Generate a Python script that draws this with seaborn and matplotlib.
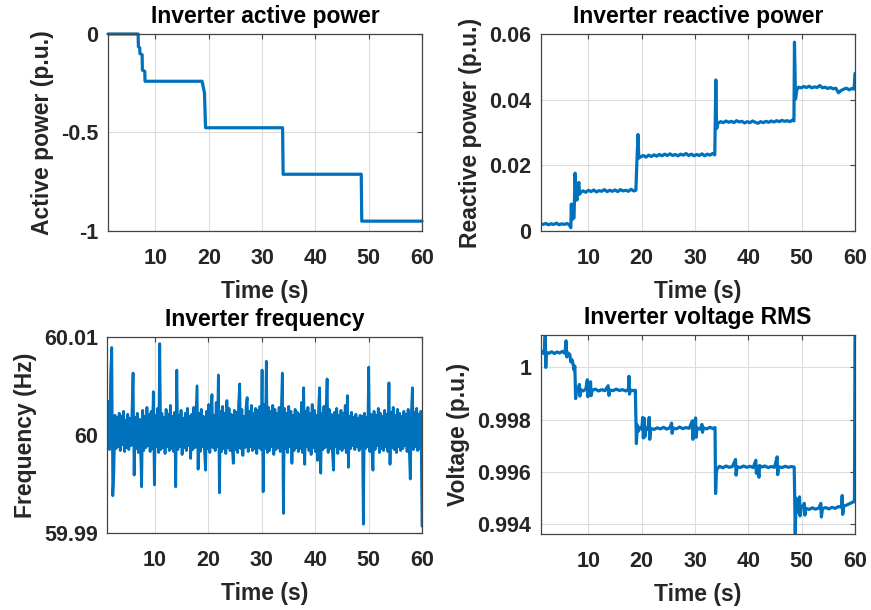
import numpy as np
import pandas as pd
import matplotlib
matplotlib.use("Agg")
import matplotlib.pyplot as plt
import seaborn as sns

# Data

# active power (p.u.) - step changes
p_time = [1.1, 6.75, 6.8, 7.05, 7.1, 7.5, 7.55, 8.0, 8.05, 18.75, 19.2, 19.35, 19.4,
          33.85, 33.95, 48.6, 48.7, 60.0]
p_val = [0.0, 0.0, -0.064, -0.07, -0.10, -0.105, -0.183, -0.19, -0.24, -0.24, -0.30,
         -0.44, -0.476, -0.476, -0.712, -0.712, -0.95, -0.95]

# reactive power, units of 1e-4 p.u.
q_time = [1.1, 1.5, 2.0, 2.5, 3.0, 3.5, 4.0, 4.5, 5.0, 5.5, 6.0, 6.4, 6.7, 6.8, 6.85,
          7.0, 7.3, 7.5, 7.6, 7.85, 8.0, 8.2, 8.35, 8.6, 9.0, 9.5, 10.0, 10.5, 11.0,
          11.5, 12.0, 12.5, 13.0, 13.5, 14.0, 14.5, 15.0, 15.5, 16.0, 16.5, 17.0, 17.5,
          18.0, 18.5, 18.9, 19.1, 19.3, 19.45, 19.8, 20.3, 20.8, 21.3, 21.8, 22.3, 22.8,
          23.3, 23.8, 24.3, 24.8, 25.3, 25.8, 26.3, 26.8, 27.3, 27.8, 28.3, 28.8, 29.3,
          29.8, 30.3, 30.8, 31.3, 31.8, 32.3, 32.8, 33.3, 33.7, 33.9, 34.05, 34.3, 34.8,
          35.3, 35.8, 36.3, 36.8, 37.3, 37.8, 38.3, 38.8, 39.3, 39.8, 40.3, 40.8, 41.3,
          41.8, 42.3, 42.8, 43.3, 43.8, 44.3, 44.8, 45.3, 45.8, 46.3, 46.8, 47.3, 47.8,
          48.3, 48.55, 48.65, 48.85, 49.1, 49.4, 49.9, 50.4, 50.9, 51.4, 51.9, 52.4,
          52.9, 53.4, 53.9, 54.4, 54.9, 55.4, 55.9, 56.4, 56.9, 57.4, 57.9, 58.4, 58.9,
          59.4, 59.8, 59.9, 60.0]
q_val = [22, 20, 23, 19, 22, 20, 24, 19, 22, 20, 23, 19, 10, 82, 40,
         36, 40, 176, 120, 94, 130, 148, 112, 119, 122, 118, 124, 120, 125,
         119, 123, 121, 126, 120, 124, 121, 125, 120, 126, 122, 124, 121,
         127, 122, 124, 215, 294, 222, 226, 230, 225, 231, 227, 232, 228,
         233, 229, 234, 230, 235, 230, 233, 229, 234, 231, 236, 230, 234,
         229, 233, 230, 235, 229, 234, 231, 236, 232, 460, 312, 328, 333,
         330, 335, 331, 334, 330, 336, 332, 334, 329, 333, 330, 335, 331,
         328, 333, 330, 334, 331, 335, 332, 336, 333, 337, 334, 336, 333,
         338, 335, 575, 402, 430, 438, 436, 440, 437, 441, 436, 439,
         437, 443, 436, 438, 434, 437, 433, 435, 421, 428, 432, 435, 430,
         434, 432, 448, 480]

# frequency deviation from 60 Hz, units of 1e-4 Hz (sampled every ~0.2 s)
f_dev = [12, 34, -15, 62, 89, -62, -38, 20, -14, 18, -12, 22, -16, 19, -10, 24, -17, 15, -13, 21,
         -15, 17, -11, 23, 63, -41, 18, -14, 22, -18, 16, -12, -53, 25, -16, 19, -13, 28, -11, 21,
         -17, 24, -14, 44, -51, 20, -12, 27, -18, 93, -15, 22, -13, 18, -19, 26, -12, 21, -16, 30,
         -14, 19, -17, 23, -53, 66, -15, 20, -12, 25, -20, 17, -13, 22, -16, 27, -11, 19, -24, 21,
         -15, 28, -13, 18, 50, -35, 22, -17, 26, -12, 19, -16, -36, 24, -14, 31, -18, 23, 41, -13,
         20, -16, 33, -12, 61, -59, 24, -17, 29, -14, 22, -19, 35, -13, 27, -16, 21, -12, -29, 25,
         -15, 23, -18, 30, 52, -14, 26, -21, 19, -13, 28, 38, -17, 24, -12, 30, -16, 22, -14, 27,
         -19, 25, -13, 29, -15, 66, -58, 31, -14, 75, -18, 28, -16, 24, -12, 30, -20, 26, -15, 22,
         -13, 28, -17, 25, 63, -80, 27, -14, 22, -18, 29, -12, 24, -29, 20, -16, 26, -13, 23, -17,
         21, -14, 33, -18, 48, -30, 24, -12, 28, -16, 22, -20, 31, -13, 25, -17, 20, -26, 27, 48,
         -39, 22, -15, 29, -13, 24, 57, -18, 26, -14, 21, -17, -36, 23, -12, 27, -19, 20, -14, 25,
         -16, 22, -13, 30, -18, 40, -33, 19, -14, 23, -11, 18, -15, 21, -12, 17, -16, 20, -13, 19,
         -91, 22, -14, 18, -12, 69, -17, 21, -13, -36, 24, -15, 20, -11, 27, -18, 22, -14, 19, -16,
         25, -12, 21, -17, 53, -30, 23, -13, 28, -15, 20, -18, 26, -12, 22, -16, 19, -14, 24, -11,
         21, -17, 26, -13, -45, 20, 48, -15, 23, -12, 27, -16, 21, -14, 24, -93]

# voltage RMS deviation from 1 p.u., units of 1e-4 p.u.
v_time = [1.1, 1.4, 1.7, 1.9, 2.0, 2.1, 2.6, 3.1, 3.6, 4.1, 4.6, 5.1, 5.6, 5.8, 5.95,
          6.1, 6.5, 6.7, 6.9, 7.1, 7.3, 7.45, 7.6, 7.75, 8.0, 8.3, 8.4, 8.6, 9.0, 9.5,
          9.8, 9.9, 10.1, 10.4, 10.5, 10.7, 11.3, 11.9, 12.5, 13.1, 13.7, 13.85, 14.0,
          14.6, 15.2, 15.8, 16.4, 17.0, 17.5, 17.6, 17.7, 17.9, 18.5, 18.8, 19.0, 19.15,
          19.3, 19.6, 20.0, 20.2, 20.3, 20.5, 20.6, 20.8, 21.2, 21.4, 21.5, 21.7, 22.3,
          22.9, 23.5, 24.1, 24.7, 25.3, 25.6, 25.7, 25.9, 26.5, 27.1, 27.7, 28.3, 28.9,
          29.5, 29.6, 29.8, 30.1, 30.2, 30.4, 31.0, 31.3, 31.4, 31.6, 32.2, 32.8, 33.4,
          33.75, 33.85, 34.0, 34.2, 34.6, 35.2, 35.8, 36.4, 37.0, 37.6, 37.7, 37.9, 38.5,
          39.1, 39.7, 40.3, 40.9, 41.4, 41.5, 41.7, 42.0, 42.1, 42.5, 43.1, 43.7, 44.3,
          44.9, 45.4, 45.5, 45.7, 46.3, 46.9, 47.5, 48.1, 48.6, 48.8, 48.95, 49.1, 49.4,
          49.6, 49.7, 49.9, 50.5, 50.6, 50.8, 51.4, 52.0, 52.6, 53.2, 53.6, 53.7, 53.9,
          54.5, 55.1, 55.7, 56.3, 56.9, 57.5, 57.6, 57.7, 57.9, 58.5, 59.1, 59.6, 59.9,
          60.0]
v_dev = [5.5, 6.0, 5.2, 12.4, 0.0, 5.8, 5.4, 6.0, 5.3, 5.9, 5.5, 6.1, 5.4, 10.2, 4.0,
         5.6, 5.0, 2.1, 3.0, 1.5, -1.0, 0.5, -11.9, -8.0, -9.2, -6.5, -11.0, -8.5, -9.0, -8.4,
         -4.7, -11.2, -8.6, -5.5, -10.8, -8.8, -8.3, -9.0, -8.5, -8.9, -7.0, -10.7, -8.6,
         -8.9, -8.3, -8.8, -8.5, -9.0, -8.4, -3.4, -10.2, -8.6, -8.9, -8.7, -29.1, -22.0,
         -24.5, -23.0, -23.6, -19.1, -27.0, -19.5, -26.5, -23.2, -23.6, -19.1, -27.5, -23.3, -23.7,
         -23.1, -23.5, -22.9, -23.6, -23.0, -21.3, -25.2, -23.2, -23.5, -22.8, -23.4, -23.0, -23.3,
         -20.4, -27.5, -23.0, -19.3, -26.7, -23.2, -23.6, -21.8, -24.8, -23.1, -23.5, -22.9, -23.4,
         -23.0, -48.2, -40.0, -38.6, -37.8, -38.4, -37.7, -38.2, -37.9, -35.2, -41.2, -38.0, -38.3,
         -37.7, -38.2, -37.8, -38.3, -35.5, -40.5, -38.0, -42.0, -37.5, -38.1, -37.7, -38.3, -37.9,
         -38.2, -34.2, -41.0, -38.0, -38.3, -37.8, -38.2, -37.9, -38.1, -63.5, -50.0, -55.5, -53.5,
         -49.5, -56.8, -53.8, -52.0, -56.5, -53.9, -54.3, -53.7, -54.2, -53.8, -52.0, -57.2, -54.0,
         -53.6, -54.1, -53.5, -53.9, -53.2, -53.5, -49.0, -56.2, -53.0, -52.6, -52.0, -51.5, -51.3,
         11.7]

x_ticks = [10, 20, 30, 40, 50, 60]
p_ticks = [-1, -0.5, 0]
p_ticklabels = ["-1", "-0.5", "0"]
q_ticks = [0, 0.02, 0.04, 0.06]
q_ticklabels = ["0", "0.02", "0.04", "0.06"]
f_ticks = [59.99, 60, 60.01]
f_ticklabels = ["59.99", "60", "60.01"]
v_ticks = [0.994, 0.996, 0.998, 1]
v_ticklabels = ["0.994", "0.996", "0.998", "1"]

titles = ["Inverter active power", "Inverter reactive power",
          "Inverter frequency", "Inverter voltage RMS"]
ylabels = ["Active power (p.u.)", "Reactive power (p.u.)",
           "Frequency (Hz)", "Voltage (p.u.)"]

# Build data frames
df_p = pd.DataFrame({"t": p_time, "y": p_val})
df_q = pd.DataFrame({"t": q_time, "y": np.array(q_val) * 1e-4})
df_f = pd.DataFrame({"t": np.linspace(1.1, 60, len(f_dev)), "y": 60 + np.array(f_dev) * 1e-4})
df_v = pd.DataFrame({"t": v_time, "y": 1 + np.array(v_dev) * 1e-4})

# Style (MATLAB-like)
sns.set_style("white")
plt.rcParams["font.family"] = ["Liberation Sans", "DejaVu Sans"]
plt.rcParams["font.weight"] = "bold"

BLUE = "#0072BD"
fig = plt.figure(figsize=(8.71, 6.10), dpi=100)

positions = [
    [0.124, 0.6213, 0.3605, 0.323],
    [0.6211, 0.6213, 0.3605, 0.323],
    [0.1234, 0.1262, 0.3611, 0.3218],
    [0.6211, 0.1246, 0.3605, 0.3262],
]
frames = [df_p, df_q, df_f, df_v]
yticks = [p_ticks, q_ticks, f_ticks, v_ticks]
yticklabels = [p_ticklabels, q_ticklabels, f_ticklabels, v_ticklabels]
ylims = [(-1, 0), (0, 0.06), (59.99, 60.01), (0.99363, 1.00124)]
widths = [2.3, 2.3, 2.0, 2.3]

for i in range(4):
    ax = fig.add_axes(positions[i])
    sns.lineplot(data=frames[i], x="t", y="y", ax=ax, color=BLUE, linewidth=widths[i],
                 sort=False, estimator=None)
    if i == 0:
        # the zero level sits on the top frame and is drawn over it
        for ln in ax.lines:
            ln.set_clip_on(False)
    ax.set_xlim(1.1, 60)
    ax.set_ylim(*ylims[i])
    ax.set_xticks(x_ticks)
    ax.set_xticklabels([str(x) for x in x_ticks])
    ax.set_yticks(yticks[i])
    ax.set_yticklabels(yticklabels[i])
    ax.grid(True, color="#dcdcdc", linewidth=0.8)
    ax.set_axisbelow(True)
    for s in ax.spines.values():
        s.set_color("#444444")
        s.set_linewidth(0.9)
        s.set_visible(True)
    ax.tick_params(direction="in", length=3.5, width=0.8, color="#444444",
                   top=True, right=True, labelsize=15.5, labelcolor="#262626")
    ax.tick_params(axis="x", pad=12)
    ax.tick_params(axis="y", pad=7)
    ax.set_title(titles[i], fontsize=16.5, fontweight="bold", pad=8, color="black")
    ax.set_xlabel("Time (s)", fontsize=16.5, fontweight="bold", labelpad=8, color="#262626")
    ax.set_ylabel(ylabels[i], fontsize=16.5, fontweight="bold", labelpad=5, color="#262626")

fig.savefig("out.png", dpi=100, facecolor="white")
